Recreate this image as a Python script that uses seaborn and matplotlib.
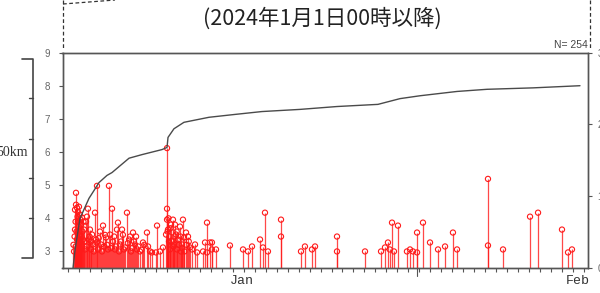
import numpy as np
import pandas as pd
import matplotlib
matplotlib.use("Agg")
import matplotlib.pyplot as plt
import seaborn as sns

# 地震の発生日（表示範囲の左端からの日数）とマグニチュード
ev_day = [
    0.50, 0.55, 0.60, 0.64, 0.64, 0.69, 0.70, 0.73, 0.73, 0.78, 0.82, 0.82, 0.86, 0.87,
    0.91, 0.91, 0.96, 1.00, 1.00, 1.05, 1.09, 1.09, 1.14, 1.18, 1.18, 1.23, 1.28, 1.32,
    1.37, 1.41, 1.46, 1.50, 1.55, 1.64, 1.70, 1.73, 1.82, 1.91, 1.95, 2.00, 2.09, 2.10,
    2.19, 2.28, 2.35, 2.46, 2.55, 2.60, 2.64, 2.73, 2.80, 2.91, 3.01, 3.10, 3.19, 3.28,
    3.37, 3.46, 3.55, 3.64, 3.73, 3.83, 3.90, 4.01, 4.10, 4.20, 4.28, 4.37, 4.46, 4.55,
    4.65, 4.74, 4.83, 4.92, 5.00, 5.10, 5.20, 5.37, 5.45, 5.56, 5.65, 5.74, 5.85, 5.92,
    6.00, 6.10, 6.20, 6.28, 6.40, 6.56, 6.70, 6.83, 6.95, 7.19, 7.29, 7.47, 7.65, 8.01,
    8.11, 8.38, 8.65,
    8.93, 9.02, 9.02, 9.02, 9.07, 9.11, 9.15, 9.20, 9.25, 9.29, 9.33, 9.38, 9.45, 9.56,
    9.60, 9.65, 9.70, 9.74, 9.84, 9.90, 9.93, 10.02, 10.10, 10.20, 10.25, 10.29, 10.38,
    10.40, 10.47, 10.56, 10.60, 10.75, 10.80, 10.93, 11.00, 11.11, 11.29, 11.57, 11.75,
    12.30, 12.48, 12.66, 12.66, 12.93, 13.11, 13.11, 13.48,
    14.75, 15.94, 16.39, 16.76, 17.49, 17.76, 17.94, 18.21, 19.40, 19.40, 21.22, 21.58,
    22.22, 22.50, 24.50, 24.50, 27.05, 28.51, 28.87, 29.14, 29.30, 29.51, 29.69, 30.05,
    30.87, 31.15, 31.42, 31.79, 31.79, 32.33, 32.97, 33.70, 34.34, 35.06, 35.43, 38.25,
    38.25, 39.62, 42.08, 42.81, 44.99, 45.54, 45.90,
]
ev_mag = [
    3.20, 3.00, 3.45, 4.26, 3.66, 3.90, 3.15, 4.77, 4.41, 3.60, 4.32, 3.36, 3.00, 4.05,
    4.20, 3.90, 3.75, 4.35, 3.21, 3.30, 4.11, 3.51, 3.96, 3.81, 3.06, 3.45, 4.02, 3.60,
    3.36, 3.90, 3.66, 3.30, 3.06, 3.90, 3.15, 4.05, 4.29, 3.36, 3.45, 3.66, 3.06, 3.30,
    3.51, 3.21, 3.00, 4.17, 3.36, 3.27, 4.98, 3.06, 3.40, 3.60, 3.21, 3.00, 3.78, 3.15,
    3.50, 3.42, 3.20, 3.06, 4.98, 3.51, 3.10, 4.29, 3.30, 3.45, 3.06, 3.15, 3.66, 3.87,
    3.00, 3.21, 3.30, 3.66, 3.50, 3.06, 3.12, 4.17, 3.25, 3.36, 3.45, 3.00, 3.10, 3.57,
    3.30, 3.21, 3.45, 3.06, 3.15, 3.00, 3.05, 3.27, 3.20, 3.57, 3.15, 3.00, 2.97, 2.97,
    3.78, 3.00, 3.12,
    3.51, 6.12, 4.29, 3.96, 3.60, 3.66, 4.00, 3.30, 3.45, 3.06, 3.70, 3.81, 3.30, 3.96,
    3.15, 3.21, 3.45, 3.81, 3.51, 3.60, 3.06, 3.36, 3.20, 3.75, 3.45, 3.00, 3.21,
    3.10, 3.96, 3.42, 3.00, 3.57, 3.20, 3.45, 3.30, 3.12, 3.06, 3.21, 2.97,
    3.00, 3.27, 3.87, 2.97, 3.27, 3.27, 3.06, 3.06,
    3.18, 3.06, 3.00, 3.15, 3.36, 3.12, 4.17, 3.00, 3.96, 3.45, 3.00, 3.15,
    3.06, 3.15, 3.45, 3.00, 3.00, 3.00, 3.12, 3.27, 3.06, 3.87, 3.00, 3.78,
    3.00, 3.06, 3.00, 3.57, 2.97, 3.87, 3.27, 3.06, 3.15, 3.57, 3.06, 5.19,
    3.18, 3.06, 4.05, 4.17, 3.66, 2.97, 3.06,
]

# 積算回数（右軸）
cum_day = [0.46, 0.64, 1.09, 1.91, 2.37, 2.82, 3.55, 4.01, 5.56, 6.74, 8.56, 9.02, 9.11,
           9.65, 10.56, 12.84, 15.21, 17.67, 21.13, 24.50, 28.23, 30.24, 32.06, 35.43,
           38.16, 42.35, 46.63]
cum_n = [0, 25, 69, 97, 108, 119, 129, 133, 153, 158, 165, 168, 182, 194, 203, 210, 214,
         218, 221, 225, 228, 236, 240, 246, 249, 251, 254]

month_pos = [15.8, 46.4]
month_lab = ["Jan", "Feb"]
mag_ticks = [3, 4, 5, 6, 7, 8, 9]
cum_ticks = [0, 100, 200, 300]

sns.set_theme(style="ticks")
plt.rcParams["font.family"] = ["Noto Sans CJK JP", "DejaVu Sans"]

RED = "#ff1a1a"
GRAY = "#555555"

df = pd.DataFrame({"day": ev_day, "mag": ev_mag})
cum = pd.DataFrame({"day": cum_day, "n": cum_n})

fig = plt.figure(figsize=(6, 2.93), dpi=100)
ax = fig.add_axes([62.5 / 600, 1 - 268 / 293, (588 - 62.5) / 600, (268 - 52.7) / 293])
ax2 = ax.twinx()

ax.vlines(df["day"], 2.5, df["mag"], color=RED, lw=0.9, alpha=0.8, zorder=2)
sns.scatterplot(data=df, x="day", y="mag", ax=ax, marker="o", s=14, zorder=3,
                linewidth=0.8, legend=False)
pts = ax.collections[-1]
pts.set_facecolor("none")
pts.set_edgecolor(RED)

sns.lineplot(data=cum, x="day", y="n", ax=ax2, color="#4a4a4a", lw=1.0)

ax.set_xlim(-0.5, 47.36)
ax.set_ylim(2.5, 9.0)
ax2.set_ylim(0, 300)
ax.set_xlabel("")
ax.set_ylabel("")
ax2.set_ylabel("")

ax.set_yticks(mag_ticks)
ax.set_yticklabels([str(m) for m in mag_ticks], fontsize=7, color="#666666",
                   family="Liberation Sans")
ax.tick_params(axis="y", direction="out", length=3, width=0.8, color=GRAY, pad=6)

ax2.set_yticks(cum_ticks)
ax2.set_yticklabels([str(c) for c in cum_ticks], fontsize=7, color="#666666",
                    family="Liberation Sans")
ax2.tick_params(axis="y", direction="out", length=3, width=0.8, color=GRAY, pad=4)

ax.set_xticks(month_pos)
ax.set_xticklabels(month_lab, fontsize=9.5, family="Liberation Mono", color="#333333")
ax.set_xticks(np.arange(0, 48), minor=True)
ax.tick_params(axis="x", which="major", length=0, pad=5)
ax.tick_params(axis="x", which="minor", direction="out", length=3, width=0.8, color=GRAY)
ax.plot([31.8, 31.8], [0, -0.035], transform=ax.get_xaxis_transform(),
        color=GRAY, lw=0.8, clip_on=False)

for a in (ax, ax2):
    for s in a.spines.values():
        s.set_visible(True)
        s.set_color(GRAY)
        s.set_linewidth(1.0)

# 枠外の注記（ピクセル座標）
ov = fig.add_axes([0, 0, 1, 1])
ov.set_xlim(0, 600)
ov.set_ylim(293, 0)
ov.axis("off")

ov.text(322, 19, "(2024年1月1日00時以降)", ha="center", va="center", fontsize=15.5,
        color="#222222", family=["Noto Sans CJK JP", "DejaVu Sans"])
ov.text(588, 45, "N= 254", ha="right", va="center", fontsize=7.5, color="#444444",
        family="Liberation Sans")

dash = (0, (3, 2))
ov.plot([63, 63], [0, 49], ls=dash, color="#333333", lw=0.9)
ov.plot([590, 590], [0, 49], ls=dash, color="#333333", lw=0.9)
ov.plot([63, 115], [4, 0], ls=dash, color="#333333", lw=0.9)

ov.plot([22, 33, 33, 22], [59, 59, 258, 258], color="#444444", lw=1.2)
for yy in [98, 139, 178, 218]:
    ov.plot([29, 33], [yy, yy], color="#444444", lw=1.0)
ov.text(28, 153, "50km", ha="right", va="center", fontsize=10, color="#333333",
        family="Liberation Serif")

fig.savefig("out.png", dpi=100)
